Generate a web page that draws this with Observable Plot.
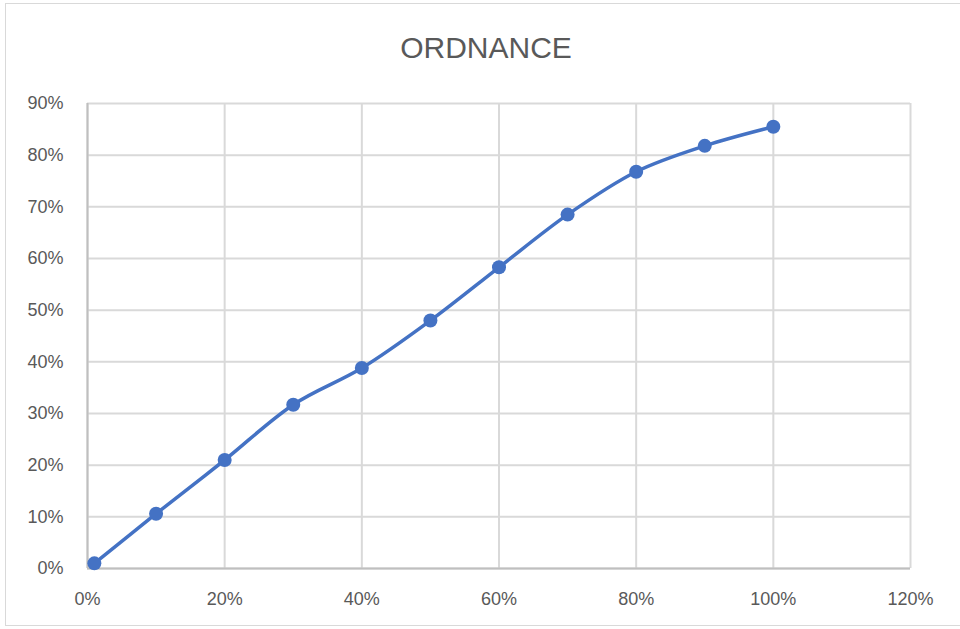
<!DOCTYPE html>
<html>
<head>
<meta charset="utf-8">
<script src="https://cdn.jsdelivr.net/npm/d3@7"></script>
<script src="https://cdn.jsdelivr.net/npm/@observablehq/plot@0.6"></script>
<style>
  html, body { margin: 0; padding: 0; background: #fff; }
  #wrap { position: relative; width: 960px; height: 629px; overflow: hidden; background: #fff; }
  #frame { position: absolute; left: 5px; top: 3px; width: 970px; height: 623px; border: 1.5px solid #d9d9d9; border-right: none; box-sizing: border-box; }
  #title { position: absolute; left: 0; top: 30px; width: 972px; text-align: center; font-family: "Liberation Sans", Arial, sans-serif; font-size: 30px; color: #595959; line-height: 36px; }
  #chart { position: absolute; left: 0; top: 0; }
</style>
</head>
<body>
<div id="wrap">
  <div id="frame"></div>
  <div id="chart"></div>
  <div id="title">ORDNANCE</div>
</div>
<script>
const xValues = [0.01, 0.10, 0.20, 0.30, 0.40, 0.50, 0.60, 0.70, 0.80, 0.90, 1.00];
const yValues = [0.01, 0.106, 0.21, 0.317, 0.388, 0.48, 0.583, 0.685, 0.768, 0.818, 0.855];
const xTicks = [0, 0.2, 0.4, 0.6, 0.8, 1.0, 1.2];
const yTicks = [0, 0.1, 0.2, 0.3, 0.4, 0.5, 0.6, 0.7, 0.8, 0.9];

const data = xValues.map((x, i) => ({x, y: yValues[i]}));
const fmt = d3.format(".0%");

const chart = Plot.plot({
  width: 960,
  height: 629,
  marginLeft: 87,
  marginRight: 50,
  marginTop: 103,
  marginBottom: 61,
  style: { fontFamily: "Liberation Sans, Arial, sans-serif", fontSize: "18px", color: "#595959", background: "transparent", overflow: "visible" },
  x: { domain: [0, 1.2] },
  y: { domain: [0, 0.9] },
  marks: [
    Plot.gridX(xTicks, { stroke: "#d9d9d9", strokeOpacity: 1, strokeWidth: 2 }),
    Plot.gridY(yTicks, { stroke: "#d9d9d9", strokeOpacity: 1, strokeWidth: 2 }),
    Plot.ruleY([0], { stroke: "#bfbfbf", strokeWidth: 2 }),
    Plot.ruleX([0], { stroke: "#bfbfbf", strokeWidth: 2 }),
    Plot.axisX(xTicks, { tickSize: 0, tickPadding: 24, tickFormat: fmt, label: null, fill: "#595959" }),
    Plot.axisY(yTicks, { tickSize: 0, tickPadding: 24, tickFormat: fmt, label: null, fill: "#595959" }),
    Plot.line(data, { x: "x", y: "y", curve: "catmull-rom", stroke: "#4472C4", strokeWidth: 3.5 }),
    Plot.dot(data, { x: "x", y: "y", r: 7, fill: "#4472C4", stroke: "none" })
  ]
});
document.getElementById("chart").appendChild(chart);
</script>
</body>
</html>
